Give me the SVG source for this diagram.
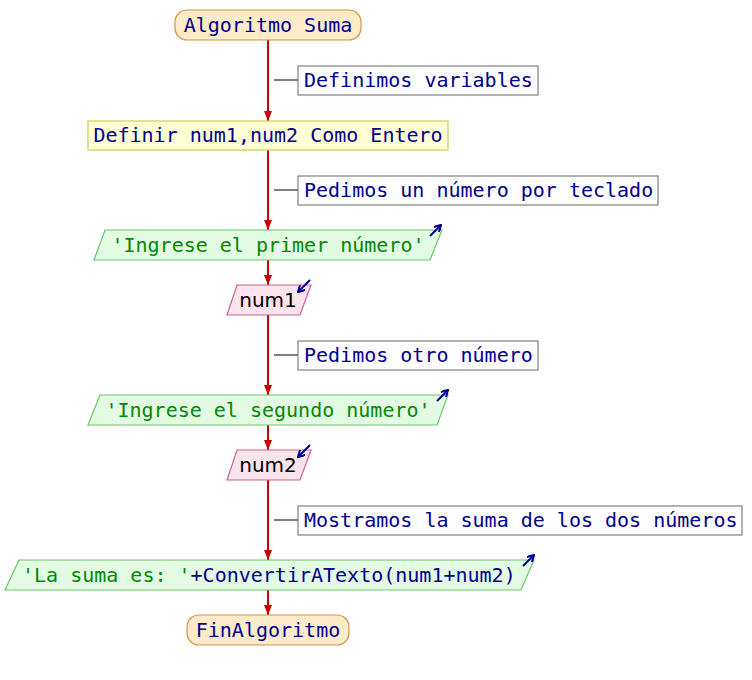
<svg xmlns="http://www.w3.org/2000/svg" width="752" height="680" viewBox="0 0 752 680">
<defs>
<style>
.t{font-family:"DejaVu Sans Mono","Liberation Mono",monospace;font-size:20px;fill:#000090}
.s{fill:#008a00}
.v{font-family:"DejaVu Sans","Liberation Sans",sans-serif;font-size:20px;fill:#000000}
.term{fill:#fdebc9;stroke:#cf9444;stroke-width:1.2}
.proc{fill:#ffffd6;stroke:#cccc55;stroke-width:1.2}
.out{fill:#e2fbe2;stroke:#6cc66c;stroke-width:1.2}
.inp{fill:#fce4ee;stroke:#c8638e;stroke-width:1.2}
.cbox{fill:#ffffff;stroke:#808080;stroke-width:1.2}
.cl{stroke:#808080;stroke-width:2}
.flow{stroke:#cc0000;stroke-width:2;fill:none;marker-end:url(#ah)}
.io{stroke:#000090;stroke-width:2;fill:none;marker-end:url(#ih)}
</style>
<marker id="ah" markerWidth="10" markerHeight="8" refX="10" refY="4" orient="auto" markerUnits="userSpaceOnUse">
<path d="M0,0 L10,4 L0,8 Z" fill="#cc0000"/>
</marker>
<marker id="ih" markerWidth="8" markerHeight="8" refX="7" refY="4" orient="auto" markerUnits="userSpaceOnUse">
<path d="M0,0 L7,4 L0,8" fill="none" stroke="#000090" stroke-width="2"/>
</marker>
</defs>
<rect width="752" height="680" fill="#ffffff"/>
<g id="connectors">
<line class="flow" x1="268" y1="40" x2="268" y2="121"/>
<line class="flow" x1="268" y1="150" x2="268" y2="230"/>
<line class="flow" x1="268" y1="260" x2="268" y2="285"/>
<line class="flow" x1="268" y1="315" x2="268" y2="395"/>
<line class="flow" x1="268" y1="425" x2="268" y2="450"/>
<line class="flow" x1="268" y1="480" x2="268" y2="560"/>
<line class="flow" x1="268" y1="590" x2="268" y2="615"/>
<line class="cl" x1="274" y1="80" x2="298" y2="80"/>
<line class="cl" x1="274" y1="190" x2="298" y2="190"/>
<line class="cl" x1="274" y1="355" x2="298" y2="355"/>
<line class="cl" x1="274" y1="520" x2="298" y2="520"/>
</g>
<g id="start">
<rect class="term" x="175" y="10" width="186" height="30" rx="12"/>
<text class="t" x="268" y="32" text-anchor="middle">Algoritmo Suma</text>
</g>
<g id="comment1">
<rect class="cbox" x="298" y="66" width="240" height="29"/>
<text class="t" x="304" y="87">Definimos variables</text>
</g>
<g id="definir">
<rect class="proc" x="88" y="121" width="360" height="29"/>
<text class="t" x="268" y="142" text-anchor="middle">Definir num1,num2 Como Entero</text>
</g>
<g id="comment2">
<rect class="cbox" x="298" y="176" width="360" height="29"/>
<text class="t" x="304" y="197">Pedimos un número por teclado</text>
</g>
<g id="escribir1">
<polygon class="out" points="105,230 442,230 430,260 94,260"/>
<text class="t s" x="268" y="252" text-anchor="middle">'Ingrese el primer número'</text>
<line class="io" x1="430" y1="236" x2="441" y2="225"/>
</g>
<g id="leer1">
<polygon class="inp" points="237,285 311,285 300,315 227,315"/>
<text class="v" x="268" y="307" text-anchor="middle">num1</text>
<line class="io" x1="310" y1="280" x2="298" y2="292"/>
</g>
<g id="comment3">
<rect class="cbox" x="298" y="341" width="240" height="29"/>
<text class="t" x="304" y="362">Pedimos otro número</text>
</g>
<g id="escribir2">
<polygon class="out" points="100,395 448,395 437,425 88,425"/>
<text class="t s" x="268" y="417" text-anchor="middle">'Ingrese el segundo número'</text>
<line class="io" x1="437" y1="401" x2="448" y2="390"/>
</g>
<g id="leer2">
<polygon class="inp" points="237,450 311,450 300,480 227,480"/>
<text class="v" x="268" y="472" text-anchor="middle">num2</text>
<line class="io" x1="310" y1="445" x2="298" y2="457"/>
</g>
<g id="comment4">
<rect class="cbox" x="298" y="506" width="444" height="29"/>
<text class="t" x="304" y="527">Mostramos la suma de los dos números</text>
</g>
<g id="escribir3">
<polygon class="out" points="19,560 534,560 521,590 5,590"/>
<text class="t" x="22" y="582"><tspan class="s">'La suma es: '</tspan>+ConvertirATexto(num1+num2)</text>
<line class="io" x1="523" y1="566" x2="534" y2="555"/>
</g>
<g id="end">
<rect class="term" x="187" y="615" width="162" height="30" rx="12"/>
<text class="t" x="268" y="637" text-anchor="middle">FinAlgoritmo</text>
</g>
</svg>
